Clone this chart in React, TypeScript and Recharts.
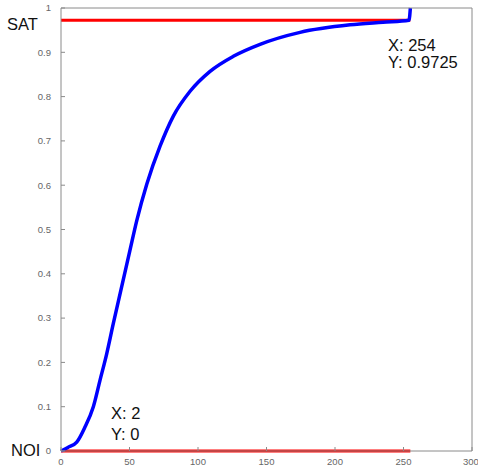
import { LineChart, Line, XAxis, YAxis } from "recharts";

const curveX = [0, 5, 11.5, 17.5, 23.6, 28.5, 33.4, 38.2, 44.3, 50.4, 55.3, 62.6, 72.3, 82, 94.2, 108.8, 125.8, 145.3, 174.5, 211, 235, 254, 255];
const curveY = [0, 0.008, 0.02, 0.054, 0.1, 0.16, 0.22, 0.288, 0.371, 0.454, 0.52, 0.602, 0.688, 0.756, 0.812, 0.857, 0.891, 0.918, 0.945, 0.962, 0.968, 0.9725, 1];

const satX = [0, 255];
const satY = [0.9725, 0.9725];
const noiX = [0, 255];
const noiY = [0, 0];

const xTicks = [0, 50, 100, 150, 200, 250, 300];
const yTicks = [0, 0.1, 0.2, 0.3, 0.4, 0.5, 0.6, 0.7, 0.8, 0.9, 1];

const curve = curveX.map((x, i) => ({ x, y: curveY[i] }));
const sat = satX.map((x, i) => ({ x, y: satY[i] }));
const noi = noiX.map((x, i) => ({ x, y: noiY[i] }));

const axisColor = "#8a8a8a";
const tickFont = { fontSize: 9.5, fill: "#666", fontFamily: "Liberation Sans, Arial, sans-serif" };
const labelFont = "Liberation Sans, Arial, sans-serif";

export default function App() {
  return (
    <div style={{ position: "absolute", left: 0, top: 0, width: 478, height: 468, background: "#fff" }}>
      <LineChart width={478} height={468} margin={{ top: 7, right: 5, left: 21, bottom: 0 }}>
        <XAxis
          dataKey="x"
          type="number"
          domain={[0, 300]}
          ticks={xTicks}
          height={17}
          stroke={axisColor}
          tick={tickFont}
          tickSize={-4}
          tickMargin={11}
        />
        <XAxis
          xAxisId="top"
          dataKey="x"
          orientation="top"
          type="number"
          domain={[0, 300]}
          ticks={xTicks}
          height={1}
          stroke={axisColor}
          tick={false}
          tickSize={-4}
        />
        <YAxis
          type="number"
          domain={[0, 1]}
          ticks={yTicks}
          width={40}
          stroke={axisColor}
          tick={tickFont}
          tickSize={-4}
          tickMargin={14}
        />
        <YAxis
          yAxisId="right"
          orientation="right"
          type="number"
          domain={[0, 1]}
          ticks={yTicks}
          width={1}
          stroke={axisColor}
          tick={false}
          tickSize={-4}
        />
        {/* invisible series so the top/right box axes get drawn */}
        <Line
          data={noi}
          dataKey="y"
          xAxisId="top"
          yAxisId="right"
          stroke="none"
          dot={false}
          legendType="none"
          isAnimationActive={false}
        />
        <Line data={sat} dataKey="y" stroke="#ff0000" strokeWidth={3} dot={false} isAnimationActive={false} type="linear" />
        <Line data={noi} dataKey="y" stroke="#ff0000" strokeWidth={3} dot={false} isAnimationActive={false} type="linear" />
        <Line data={curve} dataKey="y" stroke="#0000ff" strokeWidth={3.5} dot={false} isAnimationActive={false} type="monotone" />
      </LineChart>
      <svg width={478} height={468} style={{ position: "absolute", left: 0, top: 0, pointerEvents: "none" }}>
        <g fontFamily={labelFont} fontSize={16.5} fill="#111">
          <text x={7} y={30}>SAT</text>
          <text x={11} y={456}>NOI</text>
          <text x={388} y={51}>X: 254</text>
          <text x={388} y={68}>Y: 0.9725</text>
          <text x={111} y={419}>X: 2</text>
          <text x={111} y={440}>Y: 0</text>
        </g>
      </svg>
    </div>
  );
}
